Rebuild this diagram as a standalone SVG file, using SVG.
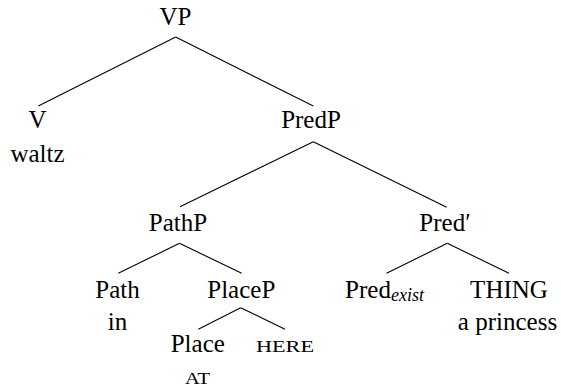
<svg xmlns="http://www.w3.org/2000/svg" width="561" height="390" viewBox="0 0 561 390">
<style>
line{stroke:#000;stroke-width:1.1}
</style>
<rect width="561" height="390" fill="#fff"/>
<g id="connectors">
<line x1="175.7" y1="37" x2="38.3" y2="106"/>
<line x1="175.7" y1="37" x2="313.3" y2="106"/>
<line x1="313.3" y1="141.7" x2="180" y2="206.7"/>
<line x1="313.3" y1="141.7" x2="446.7" y2="207.3"/>
<line x1="179.5" y1="243.3" x2="118.3" y2="273.3"/>
<line x1="179.5" y1="243.3" x2="241.7" y2="273.3"/>
<line x1="447.3" y1="243.3" x2="386.5" y2="273.3"/>
<line x1="447.3" y1="243.3" x2="509" y2="273.3"/>
<line x1="240.7" y1="307.7" x2="198.3" y2="329.3"/>
<line x1="240.7" y1="307.7" x2="285" y2="329.3"/>
</g>
<g font-family="Liberation Serif" font-size="25" fill="#000" text-anchor="middle">
<g id="VP"><text x="175.5" y="25">VP</text></g>
<g id="V"><text x="37.5" y="128">V</text><text x="37.5" y="162">waltz</text></g>
<g id="PredP"><text x="311" y="128">PredP</text></g>
<g id="PathP"><text x="178" y="231">PathP</text></g>
<g id="PredBar"><text x="445" y="231">Pred′</text></g>
<g id="Path"><text x="117.5" y="297.5">Path</text><text x="117.5" y="330">in</text></g>
<g id="PlaceP"><text x="241.3" y="297.5">PlaceP</text></g>
<g id="PredExist"><text x="384.5" y="297.5">Pred<tspan font-size="18" font-style="italic" dy="3.5">exist</tspan></text></g>
<g id="THING"><text x="509" y="297.5">THING</text><text x="507.5" y="330">a princess</text></g>
<g id="Place"><text x="197.8" y="352">Place</text><text font-size="17.5" x="197.5" y="383.5" textLength="25" lengthAdjust="spacingAndGlyphs">AT</text></g>
<g id="HERE"><text font-size="17.5" x="285" y="352" textLength="58" lengthAdjust="spacingAndGlyphs">HERE</text></g>
</g>
</svg>
